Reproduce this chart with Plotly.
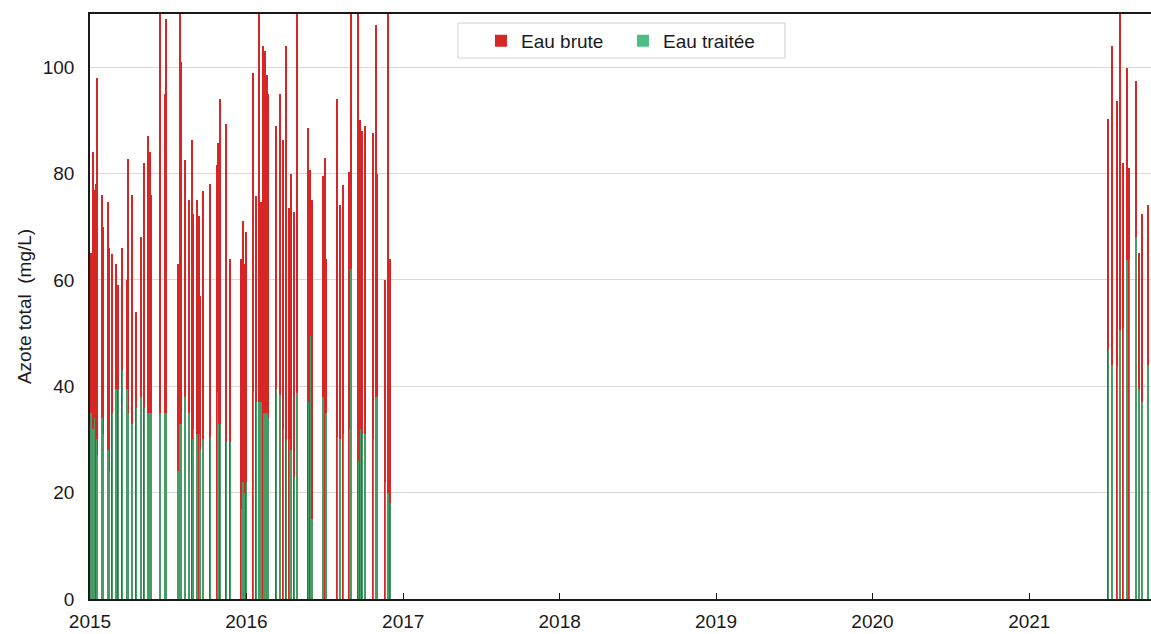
import plotly.graph_objects as go

# Sampling dates (weekly campaigns 2015-2016, then summer/autumn 2021)
dates = [
    "2015-01-03", "2015-01-08", "2015-01-12", "2015-01-16", "2015-01-19",
    "2015-01-29", "2015-02-02", "2015-02-12", "2015-02-16", "2015-02-23",
    "2015-03-03", "2015-03-09", "2015-03-18", "2015-03-28", "2015-04-01",
    "2015-04-09", "2015-04-20", "2015-04-30", "2015-05-08", "2015-05-16",
    "2015-05-21", "2015-05-25", "2015-06-13", "2015-06-25", "2015-06-28",
    "2015-07-25", "2015-07-30", "2015-08-03", "2015-08-11", "2015-08-20",
    "2015-08-28", "2015-08-31", "2015-09-08", "2015-09-13", "2015-09-15",
    "2015-09-22", "2015-10-09", "2015-10-25", "2015-10-27", "2015-11-02",
    "2015-11-15", "2015-11-25", "2015-12-20", "2015-12-24", "2015-12-27",
    "2016-01-01", "2016-01-18", "2016-01-24", "2016-01-30", "2016-02-04",
    "2016-02-10", "2016-02-13", "2016-02-18", "2016-02-22", "2016-03-11",
    "2016-03-19", "2016-03-27", "2016-04-04", "2016-04-10", "2016-04-14",
    "2016-04-22", "2016-04-28", "2016-05-25", "2016-05-30", "2016-06-02",
    "2016-06-28", "2016-07-03", "2016-07-06", "2016-07-31", "2016-08-06",
    "2016-08-08", "2016-08-14", "2016-08-28", "2016-09-01", "2016-09-19",
    "2016-09-23", "2016-09-28", "2016-10-04", "2016-10-23", "2016-10-29",
    "2016-11-02", "2016-11-20", "2016-11-26", "2016-12-02",
    "2021-07-05", "2021-07-13", "2021-07-26", "2021-08-01", "2021-08-09",
    "2021-08-17", "2021-08-23", "2021-09-07", "2021-09-14", "2021-09-21",
    "2021-10-05",
]

# Total nitrogen, raw water (mg/L)
eau_brute = [
    65, 84, 77, 78, 98,
    76, 70, 74.6, 66, 64.8,
    63, 59, 66, 60, 82.7,
    76, 54, 68, 82, 87,
    84, 76, 118, 95, 109,
    63, 125, 101, 82.6, 75,
    86.4, 72.4, 75, 72, 57,
    76.7, 78, 81.7, 85.7, 94,
    89.4, 64, 64, 71, 63,
    69, 99, 75.7, 120, 74.6,
    104, 103, 98.6, 95, 89,
    95, 86.4, 104, 73.5, 80,
    72.8, 122, 88.5, 80.7, 75,
    79.6, 83, 64, 94, 74,
    68, 77.8, 80.3, 119, 124,
    90, 88, 89, 87.6, 108,
    80, 60, 121, 64,
    90.3, 104, 93.6, 118, 82,
    99.8, 81, 97.4, 65, 72.4,
    74,
]

# Total nitrogen, treated water (mg/L)
eau_traitee = [
    35, 32, 34, 30, 27,
    34, 31, 28, 24, 35,
    39.5, 39.5, 43, 39.5, 35,
    33, 36, 38, 36, 35,
    35, 35, 35, 35, 35,
    24, 33, 33, 38, 35,
    30, 32, 31, 31, 28,
    30, 30.5, 39, 33, 33,
    29.5, 29.5, 17, 22, 20,
    22, 39, 37, 37, 37,
    35, 35, 35, 34, 39.5,
    38.4, 32, 30, 30, 28,
    23, 38.8, 37, 49.5, 15,
    38, 35, 35, 30.5, 30,
    30, 31, 32, 62, 26,
    32, 31, 31, 30, 38,
    38, 22, 20, 18,
    47, 44, 43.8, 50.6, 51,
    63.8, 64, 68, 39.5, 37,
    44,
]

bar_width_ms = 3.5 * 24 * 3600 * 1000
font_family = "Liberation Sans, Arial, sans-serif"
text_color = "#1a1a1a"

fig = go.Figure()
fig.add_trace(go.Bar(
    x=dates, y=eau_brute, name="Eau brute",
    width=bar_width_ms,
    marker=dict(color="rgb(214,38,38)", line=dict(width=0)),
))
fig.add_trace(go.Bar(
    x=dates, y=eau_traitee, name="Eau traitée",
    width=bar_width_ms,
    marker=dict(color="rgba(45,178,112,0.85)", line=dict(width=0)),
))

# Legend frame drawn as a shape so its size can be set freely
fig.add_shape(
    type="rect", xref="paper", yref="paper",
    x0=0.3468, x1=0.655, y0=0.9248, y1=0.9846,
    fillcolor="white", line=dict(color="#d0d0d0", width=1),
    layer="above",
)

fig.update_layout(
    width=1151, height=634,
    margin=dict(l=90, r=0, t=14, b=35),
    paper_bgcolor="white", plot_bgcolor="white",
    barmode="overlay",
    bargap=0,
    font=dict(family=font_family, size=19, color=text_color),
    showlegend=True,
    legend=dict(
        orientation="h",
        x=0.3685, xanchor="left",
        y=0.9866, yanchor="top",
        bgcolor="rgba(0,0,0,0)",
        borderwidth=0,
        font=dict(family=font_family, size=19, color=text_color),
        entrywidth=97,
        traceorder="normal",
    ),
    xaxis=dict(
        type="date",
        range=["2015-01-01", "2021-10-12"],
        tickvals=["2015-01-01", "2016-01-01", "2017-01-01", "2018-01-01",
                  "2019-01-01", "2020-01-01", "2021-01-01"],
        ticktext=["2015", "2016", "2017", "2018", "2019", "2020", "2021"],
        ticks="inside", ticklen=6, tickcolor=text_color,
        showline=True, linecolor=text_color, linewidth=1.5,
        mirror=True,
        showgrid=False, zeroline=False,
        tickfont=dict(size=19),
        ticklabelstandoff=4,
    ),
    yaxis=dict(
        range=[0, 110],
        tickvals=[0, 20, 40, 60, 80, 100],
        ticks="", showline=True, linecolor=text_color, linewidth=1.5,
        showgrid=True, gridcolor="#d9d9d9", gridwidth=1,
        zeroline=False,
        tickfont=dict(size=19),
        ticklabelstandoff=10,
        title=dict(text="Azote total  (mg/L)", font=dict(size=19), standoff=6),
    ),
)

fig.write_html("out.html")
